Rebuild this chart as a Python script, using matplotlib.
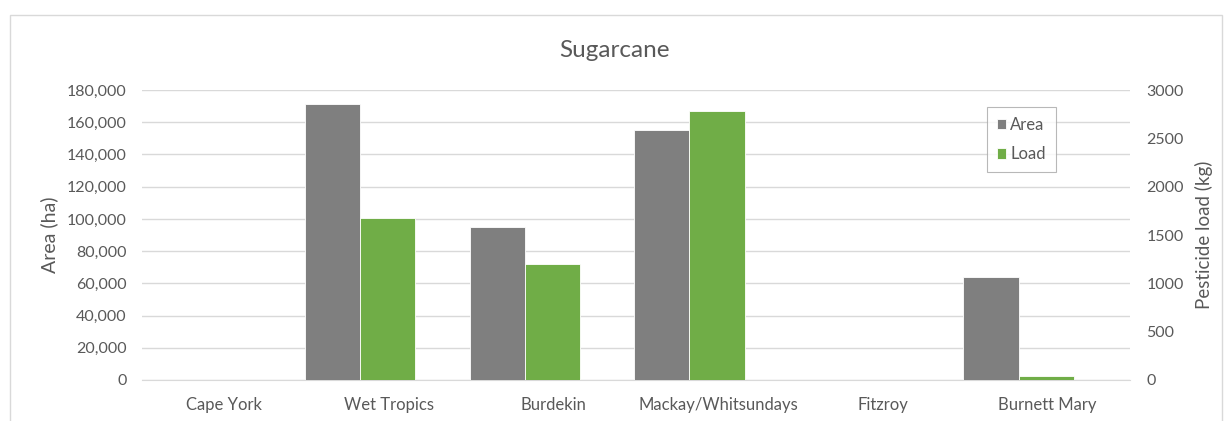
import numpy as np
import matplotlib
matplotlib.use('Agg')
import matplotlib.pyplot as plt
from matplotlib.ticker import FuncFormatter
from matplotlib.patches import Rectangle

plt.rcParams['font.family'] = ['Lato', 'DejaVu Sans']

regions = ['Cape York', 'Wet Tropics', 'Burdekin', 'Mackay/Whitsundays', 'Fitzroy', 'Burnett Mary']
area_ha = [0, 171300, 95000, 155200, 0, 64000]
load_kg = [0, 1676, 1200, 2783, 0, 40]

txt = '#595959'
grid_c = '#d9d9d9'

fig = plt.figure(figsize=(12.28, 4.21), dpi=100)
ax = fig.add_axes([0.1156, 0.0974, 0.8044, 0.6888])
ax2 = ax.twinx()

x = np.arange(len(regions))
w = 0.335
shift = -0.175  # bar pairs sit left of the category centre in the original
ax.bar(x + shift - w / 2, area_ha, width=w, color='#7f7f7f', edgecolor='white', linewidth=0.6, label='Area', zorder=3)
ax2.bar(x + shift + w / 2, load_kg, width=w, color='#70ad47', edgecolor='white', linewidth=0.6, label='Load', zorder=3)

ax.set_xlim(-0.5, len(regions) - 0.5)
ax.set_ylim(0, 180000)
ax2.set_ylim(0, 3000)
ax.set_yticks(np.arange(0, 180001, 20000))
ax2.set_yticks(np.arange(0, 3001, 500))
ax.yaxis.set_major_formatter(FuncFormatter(lambda v, p: f'{int(v):,}'))
ax.set_xticks(x)
ax.set_xticklabels(regions)

ax.grid(axis='y', color=grid_c, linewidth=1, zorder=0)
ax.set_axisbelow(True)
for a in (ax, ax2):
    for s in a.spines.values():
        s.set_visible(False)
    a.tick_params(length=0, colors=txt, labelsize=11.5)
ax.spines['bottom'].set_visible(True)
ax.spines['bottom'].set_color(grid_c)
ax.tick_params(axis='x', pad=12, labelsize=12)
ax.tick_params(axis='y', pad=11)
ax2.tick_params(axis='y', pad=12)

ax.set_ylabel('Area (ha)', color=txt, fontsize=14, labelpad=6)
ax2.set_ylabel('Pesticide load (kg)', color=txt, fontsize=13.5, labelpad=8)
fig.text(0.5, 0.88, 'Sugarcane', ha='center', va='center', color=txt, fontsize=17.5)

h1, l1 = ax.get_legend_handles_labels()
h2, l2 = ax2.get_legend_handles_labels()
leg = ax2.legend(h1 + h2, l1 + l2, loc='upper left', bbox_to_anchor=(0.847, 0.97),
                 frameon=True, fancybox=False, fontsize=12, handlelength=0.55,
                 handleheight=0.55, handletextpad=0.25, labelspacing=0.8, borderpad=0.6,
                 labelcolor=txt)
leg.get_frame().set_edgecolor('#a6a6a6')
leg.get_frame().set_linewidth(0.8)

fig.patches.append(Rectangle((0.008, -0.05), 0.987, 1.015, transform=fig.transFigure,
                             fill=False, edgecolor='#d9d9d9', linewidth=1))

fig.savefig('out.png', dpi=100)
